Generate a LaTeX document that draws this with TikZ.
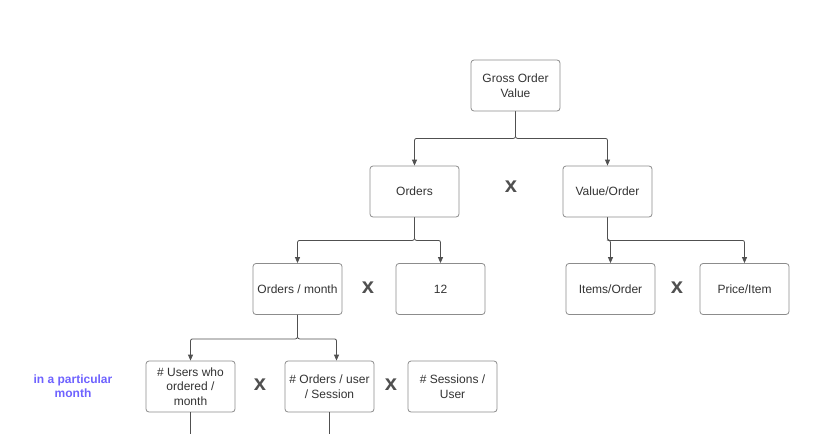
\documentclass[tikz,border=0pt]{standalone}
\usepackage{fontspec}
\setmainfont{Liberation Sans}
\definecolor{boxgray}{RGB}{140, 140, 140}
\definecolor{linegray}{RGB}{80, 80, 80}
\definecolor{textgray}{RGB}{51, 51, 51}
\definecolor{notepurple}{RGB}{110, 98, 255}
\usetikzlibrary{
  arrows.meta,
  positioning
}

\begin{document}
\begin{tikzpicture}[
  x=1pt, y=-1pt,
  metric/.style={
    draw=boxgray, line width=0.8pt,
    fill=white,
    rounded corners=3pt,
    minimum width=89pt, minimum height=51pt,
    text=textgray, align=center, inner sep=2pt,
    font=\fontsize{12}{14.5}\selectfont
  },
  times/.style={
    text=linegray,
    font=\fontsize{22}{22}\selectfont\bfseries
  },
  link/.style={
    draw=linegray, line width=0.8pt,
    rounded corners=2pt,
    -{Triangle[length=6pt, width=5pt]}
  },
  note/.style={
    text=notepurple, align=center,
    font=\fontsize{12}{14.5}\selectfont\bfseries
  }
]
\useasboundingbox (0,0) rectangle (833,434);

% top level
\node[metric] (gov) at (515.5, 85.5) {Gross Order\\Value};

% second level
\node[metric] (orders) at (414.5, 191.5) {Orders};
\node[metric] (valorder) at (607.5, 191.5) {Value/Order};
\node[times] (x1) at (511, 187) {x};

% third level
\node[metric] (ordmonth) at (297.5, 289) {Orders / month};
\node[metric] (twelve) at (440.5, 289) {12};
\node[metric] (itemsorder) at (610.5, 289) {Items/Order};
\node[metric] (priceitem) at (744.5, 289) {Price/Item};
\node[times] (x2) at (368, 288) {x};
\node[times] (x3) at (677, 288) {x};

% fourth level
\node[metric] (users) at (190.5, 386.5) {\# Users who\\ordered /\\month};
\node[metric] (ordsession) at (329.5, 386.5) {\# Orders / user\\/ Session};
\node[metric] (sessuser) at (452.5, 386.5) {\# Sessions /\\User};
\node[times] (x4) at (260, 385) {x};
\node[times] (x5) at (391, 385) {x};
\node[note] (monthnote) at (73, 386) {in a particular\\month};

% connectors
\draw[link] (gov.south) -- ++(0,27) -| (orders.north);
\draw[link] (gov.south) -- ++(0,27) -| (valorder.north);
\draw[link] (orders.south) -- ++(0,23) -| (ordmonth.north);
\draw[link] (orders.south) -- ++(0,23) -| (twelve.north);
\draw[link] (valorder.south) -- ++(0,23) -| (itemsorder.north);
\draw[link] (valorder.south) -- ++(0,23) -| (priceitem.north);
\draw[link] (ordmonth.south) -- ++(0,24) -| (users.north);
\draw[link] (ordmonth.south) -- ++(0,24) -| ([xshift=7pt]ordsession.north);

% lines running off the page
\coordinate (usersout) at (190.5, 434);
\coordinate (ordsessout) at (329.5, 434);
\draw[draw=linegray, line width=0.8pt] (users.south) -- (usersout);
\draw[draw=linegray, line width=0.8pt] (ordsession.south) -- (ordsessout);
\end{tikzpicture}
\end{document}
